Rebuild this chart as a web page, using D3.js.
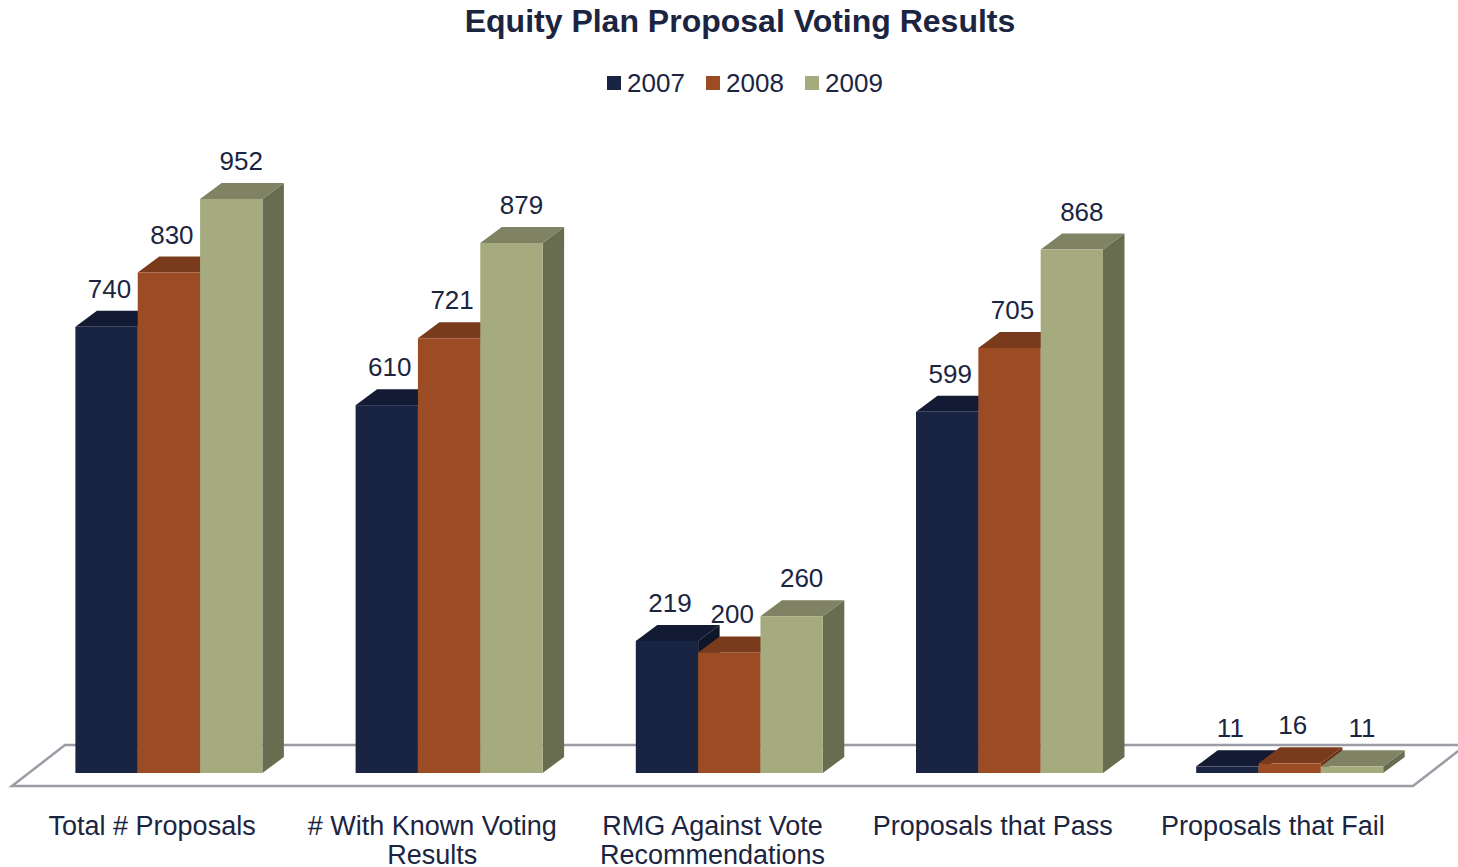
<!DOCTYPE html>
<html>
<head>
<meta charset="utf-8">
<script src="https://cdn.jsdelivr.net/npm/d3@7"></script>
<style>
  html, body { margin: 0; padding: 0; background: #ffffff; }
  svg { display: block; font-family: "Liberation Sans", Arial, sans-serif; }
</style>
</head>
<body>
<svg id="chart" width="1458" height="867"></svg>
<script>
// Chart data
const categories = [
  ["Total # Proposals"],
  ["# With Known Voting", "Results"],
  ["RMG Against Vote", "Recommendations"],
  ["Proposals that Pass"],
  ["Proposals that Fail"]
];
const seriesNames = ["2007", "2008", "2009"];
const values2007 = [740, 610, 219, 599, 11];
const values2008 = [830, 721, 200, 705, 16];
const values2009 = [952, 879, 260, 868, 11];
const seriesValues = [values2007, values2008, values2009];

// Styling
const textColor = "#1b2541";
const faceColors = [
  { front: "#182441", top: "#121b33", side: "#0f1628" },
  { front: "#9c4c24", top: "#7a3a1c", side: "#6a3215" },
  { front: "#a5ab7f", top: "#7f8263", side: "#696d50" }
];

const svg = d3.select("#chart");

// Floor parallelogram (front edge + receding depth)
const floor = { x0: 12, x1: 1413, y: 786, dx: 53, dy: -41 };
// Bars stand partway into the floor and have their own depth
const barPlane = { dx: 16.8, dy: -13 };
const barDepth = { dx: 21.5, dy: -16 };
const groupWidth = 187;

const catIdx = d3.range(categories.length);
const x = d3.scaleBand().domain(catIdx).range([floor.x0, floor.x1]).padding(0);
const xs = d3.scaleBand().domain(d3.range(seriesNames.length)).range([0, groupWidth]).padding(0);
const baseY = floor.y + barPlane.dy;
const y = d3.scaleLinear().domain([0, 1000]).range([baseY, 170]);

// Title
svg.append("text")
  .attr("x", 740).attr("y", 32)
  .attr("text-anchor", "middle")
  .attr("font-size", 32).attr("font-weight", "bold")
  .attr("fill", textColor)
  .text("Equity Plan Proposal Voting Results");

// Legend
const legendX = [607, 706, 805];
const legend = svg.append("g");
seriesNames.forEach((name, i) => {
  legend.append("rect")
    .attr("x", legendX[i]).attr("y", 76).attr("width", 14).attr("height", 14)
    .attr("fill", faceColors[i].front);
  legend.append("text")
    .attr("x", legendX[i] + 20).attr("y", 92)
    .attr("font-size", 26).attr("fill", textColor)
    .text(name);
});

// Floor
const fl = [
  [floor.x0, floor.y],
  [floor.x1, floor.y],
  [floor.x1 + floor.dx, floor.y + floor.dy],
  [floor.x0 + floor.dx, floor.y + floor.dy]
];
const poly = pts => "M" + pts.map(p => p.join(",")).join("L") + "Z";
svg.append("path")
  .attr("d", poly(fl))
  .attr("fill", "#ffffff")
  .attr("stroke", "#9b9ca5")
  .attr("stroke-width", 2.5)
  .attr("stroke-linejoin", "miter");

// Bars: side, top, then front face, left to right so later bars overlap earlier sides
const bars = svg.append("g");
catIdx.forEach(c => {
  const gx = x(c) + barPlane.dx + (x.bandwidth() - groupWidth) / 2;
  seriesValues.forEach((vals, s) => {
    const v = vals[c];
    const x0 = gx + xs(s), x1 = x0 + xs.bandwidth();
    const y0 = baseY, y1 = y(v);
    const dx = barDepth.dx, dy = barDepth.dy;
    const g = bars.append("g");
    g.append("path")
      .attr("d", poly([[x1, y1], [x1 + dx, y1 + dy], [x1 + dx, y0 + dy], [x1, y0]]))
      .attr("fill", faceColors[s].side);
    g.append("path")
      .attr("d", poly([[x0, y1], [x0 + dx, y1 + dy], [x1 + dx, y1 + dy], [x1, y1]]))
      .attr("fill", faceColors[s].top);
    g.append("rect")
      .attr("x", x0).attr("y", y1)
      .attr("width", x1 - x0).attr("height", y0 - y1)
      .attr("fill", faceColors[s].front);
  });
});

// Value labels
const labelShift = [3, 3, 10];
const labels = svg.append("g");
catIdx.forEach(c => {
  const gx = x(c) + barPlane.dx + (x.bandwidth() - groupWidth) / 2;
  seriesValues.forEach((vals, s) => {
    const v = vals[c];
    labels.append("text")
      .attr("x", gx + xs(s) + xs.bandwidth() / 2 + labelShift[s])
      .attr("y", y(v) - 29)
      .attr("text-anchor", "middle")
      .attr("font-size", 26).attr("fill", textColor)
      .text(v);
  });
});

// Category labels
const catLabels = svg.append("g");
catIdx.forEach(c => {
  const cx = x(c) + x.bandwidth() / 2;
  const t = catLabels.append("text")
    .attr("x", cx)
    .attr("y", 835)
    .attr("text-anchor", "middle")
    .attr("font-size", 27).attr("fill", textColor);
  categories[c].forEach((line, i) => {
    t.append("tspan")
      .attr("x", cx)
      .attr("dy", i === 0 ? 0 : 29)
      .text(line);
  });
});
</script>
</body>
</html>
